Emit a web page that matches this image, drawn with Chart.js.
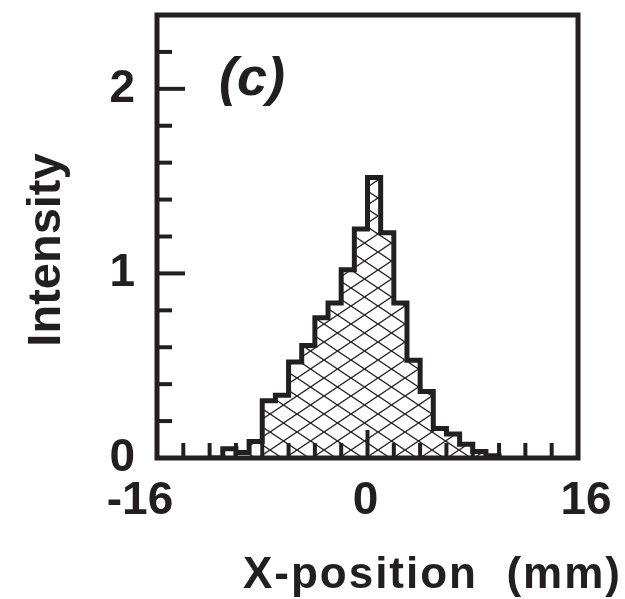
<!DOCTYPE html>
<html>
<head>
<meta charset="utf-8">
<script src="https://cdn.jsdelivr.net/npm/chart.js@4.4.1/dist/chart.umd.min.js"></script>
<style>
  html, body { margin: 0; padding: 0; background: #fff; }
  #wrap { width: 625px; height: 599px; position: relative; }
</style>
</head>
<body>
<div id="wrap"><canvas id="histChart"></canvas></div>
<script>
// histogram bins (left edge, mm) and intensity
const binLeft = [-12, -11, -10, -9, -8, -7, -6, -5, -4, -3, -2, -1, 0, 1, 2, 3, 4, 5, 6, 7, 8, 9];
const intensity = [0, 0.05, 0.03, 0.09, 0.31, 0.34, 0.52, 0.61, 0.76, 0.84, 1.02, 1.24, 1.52, 1.22, 0.84, 0.53, 0.36, 0.16, 0.13, 0.075, 0.035, 0.012];
const binWidth = 1;

// axis ticks
const xTickValues = [-16, 0, 16];
const xTickLabels = ['-16', '0', '16'];
const yTickValues = [0, 1, 2];
const yTickLabels = ['0', '1', '2'];

const ink = '#231f20';
const fontFam = "'Liberation Sans', Arial, Helvetica, sans-serif";
Chart.defaults.font.family = fontFam;
Chart.defaults.color = ink;

// cross hatch pattern
function makeHatch() {
    const w = 27, h = 18;
    const c = document.createElement('canvas');
    c.width = w; c.height = h;
    const g = c.getContext('2d');
    g.fillStyle = '#fff';
    g.fillRect(0, 0, w, h);
    g.strokeStyle = '#2a2627';
    g.lineWidth = 1.4;
    for (let k = -1; k <= 1; k++) {
        g.beginPath();
        g.moveTo(-w, -h + k * h); g.lineTo(2 * w, 2 * h + k * h);
        g.moveTo(-w, 2 * h + k * h); g.lineTo(2 * w, -h + k * h);
        g.stroke();
    }
    return g.createPattern(c, 'repeat');
}

// outline points of the step histogram
let pts = [{ x: binLeft[0], y: 0 }];
binLeft.forEach((x, i) => {
    pts.push({ x: x, y: intensity[i] });
    pts.push({ x: x + binWidth, y: intensity[i] });
});
pts.push({ x: binLeft[binLeft.length - 1] + binWidth, y: 0 });

// frame, inward ticks, x labels and titles
const decorPlugin = {
    id: 'decor',
    afterDatasetsDraw(chart) {
        const ctx = chart.ctx;
        const a = chart.chartArea;
        const xs = chart.scales.x, ys = chart.scales.y;
        ctx.save();
        ctx.strokeStyle = ink;
        ctx.fillStyle = ink;

        // ticks
        ctx.lineWidth = 4;
        ctx.lineCap = 'butt';
        for (let v = 0.2; v < 2.39; v += 0.2) {
            const major = Math.abs(v - Math.round(v)) < 1e-6;
            const py = ys.getPixelForValue(v);
            ctx.beginPath();
            ctx.moveTo(a.left, py);
            ctx.lineTo(a.left + (major ? 28 : 15), py);
            ctx.stroke();
        }
        for (let v = -14; v <= 14; v += 2) {
            const px = xs.getPixelForValue(v);
            ctx.beginPath();
            ctx.moveTo(px, a.bottom);
            ctx.lineTo(px, a.bottom - (v === 0 ? 28 : 15));
            ctx.stroke();
        }

        // frame
        ctx.lineWidth = 5;
        ctx.strokeRect(a.left, a.top, a.right - a.left, a.bottom - a.top);

        // x tick labels
        ctx.font = 'bold 46px ' + fontFam;
        ctx.textAlign = 'center';
        ctx.textBaseline = 'alphabetic';
        const shift = [-17, -2, 8];
        xTickValues.forEach((v, i) => {
            ctx.fillText(xTickLabels[i], xs.getPixelForValue(v) + shift[i], 514);
        });

        // panel label
        ctx.font = 'italic bold 54px ' + fontFam;
        ctx.textAlign = 'left';
        ctx.fillText('(c)', 219, 95);

        // x title
        ctx.font = 'bold 44px ' + fontFam;
        ctx.letterSpacing = '2px';
        ctx.textAlign = 'right';
        ctx.fillText('X-position  (mm)', 622, 588);
        ctx.letterSpacing = '0px';

        // y title
        ctx.translate(60, 250);
        ctx.rotate(-Math.PI / 2);
        ctx.font = 'bold 47px ' + fontFam;
        ctx.textAlign = 'center';
        ctx.fillText('Intensity', 0, 0);
        ctx.restore();
    }
};

const ctx = document.getElementById('histChart').getContext('2d');
new Chart(ctx, {
    type: 'line',
    data: {
        datasets: [{
            data: pts,
            borderColor: ink,
            borderWidth: 5,
            borderJoinStyle: 'miter',
            backgroundColor: makeHatch(),
            fill: 'origin',
            tension: 0,
            pointRadius: 0
        }]
    },
    options: {
        responsive: true,
        maintainAspectRatio: false,
        animation: false,
        layout: { padding: { top: 15, right: 47, left: 0, bottom: 0 } },
        plugins: { legend: { display: false }, tooltip: { enabled: false } },
        scales: {
            x: {
                type: 'linear',
                min: -16, max: 16,
                grid: { display: false },
                border: { display: false },
                ticks: { display: false },
                afterFit: s => { s.height = 141; s.paddingLeft = 0; s.paddingRight = 0; }
            },
            y: {
                min: 0, max: 2.4,
                grid: { display: false },
                border: { display: false },
                afterBuildTicks: s => { s.ticks = yTickValues.map(v => ({ value: v })); },
                ticks: {
                    padding: 14,
                    font: { size: 46, weight: 'bold' },
                    color: ink,
                    callback: (v) => yTickLabels[yTickValues.indexOf(v)]
                },
                afterFit: s => { s.width = 157; s.paddingTop = 0; s.paddingBottom = 0; }
            }
        }
    },
    plugins: [decorPlugin]
});
</script>
</body>
</html>
